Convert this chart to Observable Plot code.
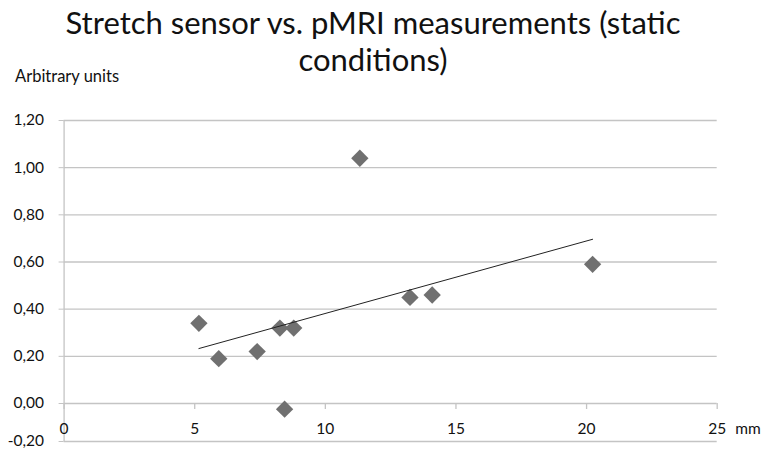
<!DOCTYPE html>
<html>
<head>
<meta charset="utf-8">
<script src="https://cdn.jsdelivr.net/npm/d3@7"></script>
<script src="https://cdn.jsdelivr.net/npm/@observablehq/plot@0.6"></script>
<style>
  html, body { margin: 0; padding: 0; background: #fff; }
  #wrap { position: relative; width: 767px; height: 463px; font-family: Lato, "Open Sans", sans-serif; color: #111; }
  #title { position: absolute; left: 0; top: 3.5px; width: 746px; text-align: center; font-size: 31px; line-height: 37px; }
  #ylabel { position: absolute; left: 15px; top: 67.5px; font-size: 16.5px; line-height: 16px; }
  #chart { position: absolute; left: 0; top: 0; }
</style>
</head>
<body>
<div id="wrap">
  <div id="chart"></div>
  <div id="title">Stretch sensor vs. pMRI measurements (static<br>conditions)</div>
  <div id="ylabel">Arbitrary units</div>
</div>
<script>
// Data
const mm = [5.16, 5.92, 7.39, 8.26, 8.79, 8.44, 11.32, 13.24, 14.09, 20.23];
const sensor = [0.34, 0.19, 0.22, 0.32, 0.32, -0.03, 1.04, 0.45, 0.46, 0.59];
const xTicks = [0, 5, 10, 15, 20, 25];
const yTicks = [-0.2, 0, 0.2, 0.4, 0.6, 0.8, 1.0, 1.2];
const xUnit = "mm";

const points = mm.map((x, i) => ({x, y: sensor[i]}));
const fmtY = d => d3.format(".2f")(d).replace(".", ",").replace("−", "-");

const grid = "#c4c4c4";
const chart = Plot.plot({
  width: 767,
  height: 463,
  marginLeft: 63.6,
  marginRight: 50.3,
  marginTop: 120,
  marginBottom: 22,
  style: {fontFamily: "Lato, 'Open Sans', sans-serif", fontSize: "15px", color: "#111", background: "transparent"},
  x: {type: "linear", domain: [0, 25], axis: null},
  // the reference's band below zero is drawn a little shorter than the others
  y: {type: "linear", domain: [-0.2, 0, 1.2], range: [441, 403, 120], axis: null},
  marks: [
    Plot.ruleY(yTicks, {stroke: grid, strokeWidth: 1.3}),
    Plot.ruleX([0], {stroke: grid, strokeWidth: 1.3}),
    Plot.axisY({ticks: yTicks, tickFormat: fmtY, tickSize: 5, tickPadding: 15, stroke: grid, fill: "#111", fontSize: 15.5, label: null}),
    // x tick marks hanging below y = 0
    Plot.ruleX(xTicks, {x: d => d, y1: 0, y2: 0, insetBottom: -6, stroke: grid, strokeWidth: 1.3}),
    Plot.text(xTicks, {x: d => d, y: 0, dy: 26, text: d => String(d), fill: "#111", fontSize: 15.5}),
    Plot.text([xUnit], {x: () => xTicks[xTicks.length - 1], y: () => 0, dx: 18, dy: 26, textAnchor: "start", text: d => d, fill: "#111", fontSize: 15.5}),
    Plot.dot(points, {x: "x", y: "y", symbol: "diamond2", r: 7.8, fill: "#707070", stroke: "none"}),
    Plot.linearRegressionY(points, {x: "x", y: "y", stroke: "#222", strokeWidth: 1, ci: 0})
  ]
});
document.getElementById("chart").appendChild(chart);
</script>
</body>
</html>
